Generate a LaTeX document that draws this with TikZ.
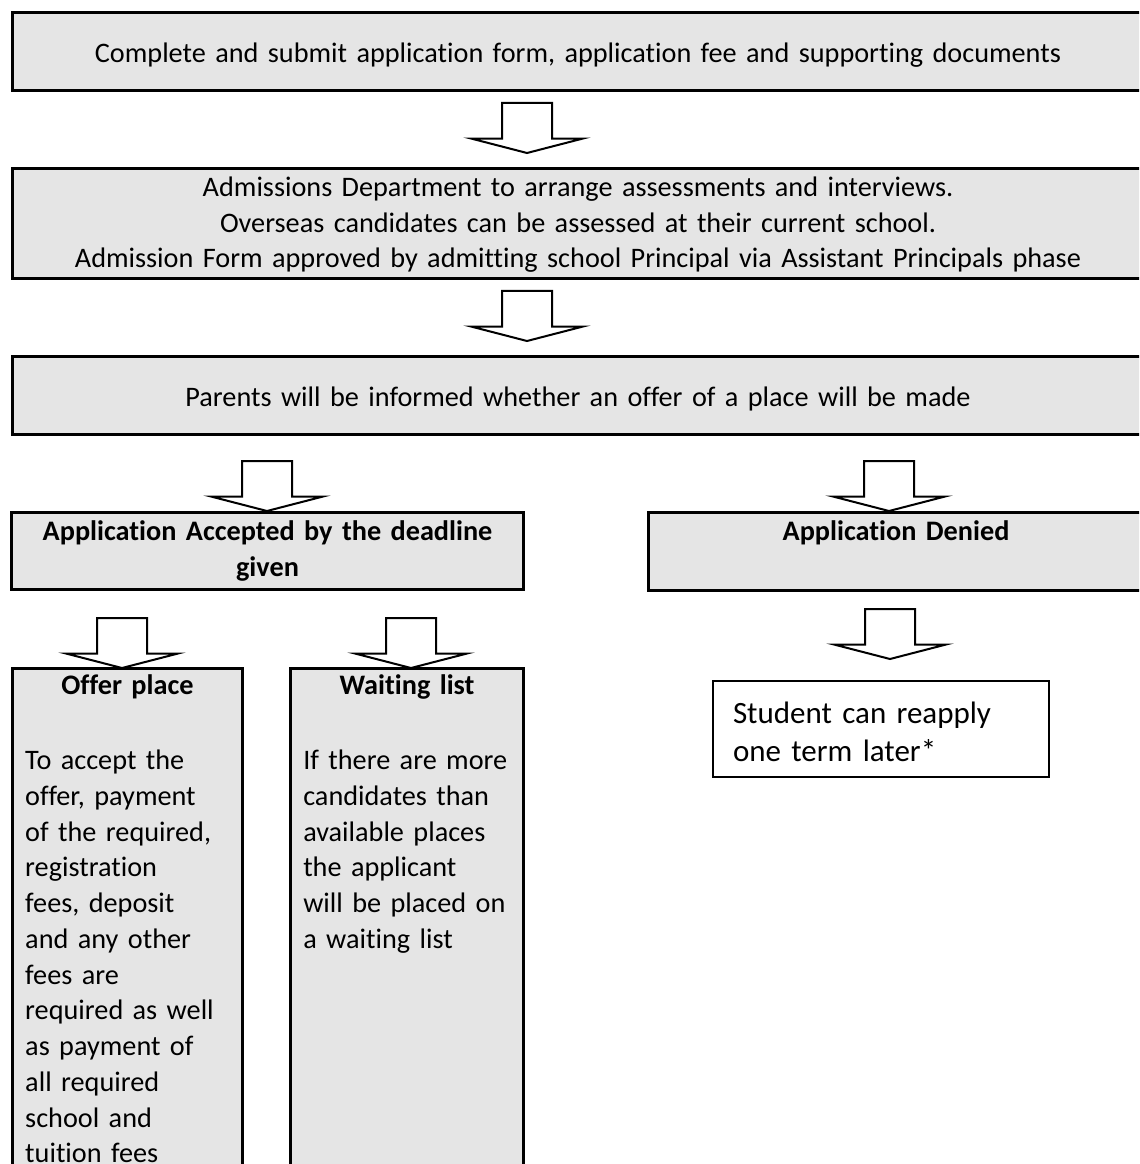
\documentclass[tikz,border=0pt]{standalone}
\usepackage{fontspec}
\setmainfont{Carlito}[Ligatures=NoCommon]
\usetikzlibrary{shapes.arrows}

\begin{document}
\begin{tikzpicture}[x=0.4pt, y=-0.4pt,
        box/.style={rectangle, draw, fill=black!10, line width=1.2pt, inner sep=0pt, anchor=north west, align=center, font=\fontsize{11.3pt}{14.3pt}\selectfont},
        widebox/.style={box, text width=452.4pt, minimum width=452.4pt},
        colbox/.style={box, align=left, inner xsep=5.1pt, text width=81.8pt, text height=10.4pt, text depth=194.8pt},
        note/.style={rectangle, draw, line width=0.8pt, anchor=north west, align=left, inner ysep=0pt, inner xsep=8pt, font=\fontsize{12.4pt}{15.2pt}\selectfont},
        blockarr/.style={single arrow, draw, fill=white, line width=0.8pt, rotate=-90, anchor=tail, inner xsep=0pt, inner ysep=9.6pt, minimum height=20pt, single arrow head extend=12.4pt, single arrow tip angle=151},
    ]
        \useasboundingbox (0,0) rectangle (1139,1164);
        \clip (0,0) rectangle (1139,1164);

        % Main steps
        \node[widebox, text height=20pt, text depth=11.2pt] (submit) at (11,11) {Complete and submit application form, application fee and supporting documents};
        \node[blockarr] (arr1) at (527,102) {};
        \node[widebox, text height=11.2pt, text depth=32.8pt] (assess) at (11,167) {Admissions Department to arrange assessments and interviews.\\ Overseas candidates can be assessed at their current school.\\ Admission Form approved by admitting school Principal via Assistant Principals phase};
        \node[blockarr] (arr2) at (527,290) {};
        \node[widebox, text height=20pt, text depth=11.2pt] (inform) at (11,355) {Parents will be informed whether an offer of a place will be made};

        % Outcome
        \node[blockarr] (arr3) at (267,460) {};
        \node[box, font=\fontsize{11.3pt}{14.3pt}\selectfont\bfseries, text width=204.8pt, text height=11.2pt, text depth=19.6pt] (accepted) at (10,511) {Application Accepted by the deadline\\ given};
        \node[blockarr] (arr4) at (889,460) {};
        \node[box, font=\fontsize{11.3pt}{14.3pt}\selectfont\bfseries, text width=198pt, text height=11.2pt, text depth=20pt] (denied) at (647,511) {Application Denied};

        % Accepted: offer or waiting list
        \node[blockarr] (arr5) at (122,617) {};
        \node[colbox] (offer) at (11,667) {\makebox[\linewidth]{\textbf{Offer place}}\\[15.7pt]
            To accept the\\ offer, payment\\ of the required,\\ registration\\ fees, deposit\\ and any other\\ fees are\\ required as well\\ as payment of\\ all required\\ school and\\ tuition fees};
        \node[blockarr] (arr6) at (411,617) {};
        \node[colbox, text width=83pt] (waiting) at (289,667) {\makebox[\linewidth]{\textbf{Waiting list}}\\[15.7pt]
            If there are more\\ candidates than\\ available places\\ the applicant\\ will be placed on\\ a waiting list};

        % Denied
        \node[blockarr] (arr7) at (890,608) {};
        \node[note, text width=118.4pt, text height=16.8pt, text depth=21.6pt] (reapply) at (712,680) {Student can reapply\\ one term later*};
    \end{tikzpicture}
\end{document}
